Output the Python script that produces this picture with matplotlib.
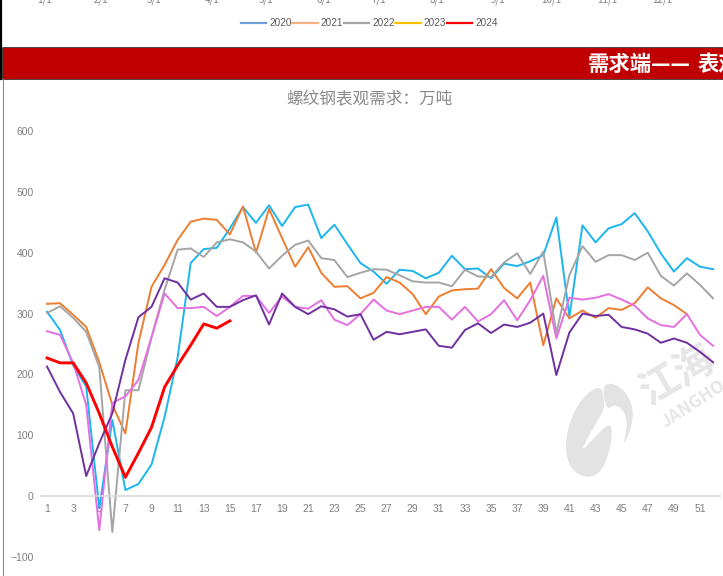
import numpy as np
import matplotlib
matplotlib.use("Agg")
import matplotlib.pyplot as plt
from matplotlib.lines import Line2D
from matplotlib.patches import Polygon, Rectangle

plt.rcParams['font.family'] = ['Noto Sans CJK SC', 'DejaVu Sans']

weeks = list(range(1, 53))
week_ticks = list(range(1, 52, 2))
y_ticks = [-100, 0, 100, 200, 300, 400, 500, 600]
month_labels = ["1/1", "2/1", "3/1", "4/1", "5/1", "6/1", "7/1", "8/1", "9/1", "10/1", "11/1", "12/1"]
legend_years = ["2020", "2021", "2022", "2023", "2024"]

blue = [303, 273, 215, 180, -20, 125, 10, 20, 52, 130, 228, 383, 406, 408, 440, 475, 449, 478, 444, 475,
        479, 424, 446, 414, 383, 369, 349, 372, 370, 358, 367, 395, 373, 374, 358, 382, 378, 386, 396, 458,
        295, 445, 417, 440, 447, 465, 435, 399, 369, 391, 377, 373]
orange = [316, 317, 298, 278, 220, 150, 103, 252, 344, 380, 421, 451, 456, 454, 430, 476, 400, 472, 424, 377,
          409, 367, 344, 345, 325, 334, 360, 351, 332, 299, 328, 338, 340, 341, 373, 342, 325, 351, 248, 325,
          292, 305, 293, 309, 306, 317, 343, 325, 314, 299]
gray = [301, 312, 293, 270, 212, -59, 174, 174, 261, 339, 405, 407, 393, 417, 422, 417, 402, 374, 395, 413,
        420, 391, 388, 360, 367, 373, 372, 363, 353, 351, 351, 345, 372, 361, 360, 384, 399, 365, 402, 268,
        363, 411, 385, 396, 396, 388, 400, 362, 346, 366, 347, 325]
pink = [271, 265, 219, 150, -56, 153, 164, 191, 261, 333, 309, 309, 311, 296, 311, 329, 329, 301, 328, 311,
        308, 322, 290, 281, 299, 323, 305, 299, 305, 311, 311, 290, 311, 287, 299, 322, 289, 322, 362, 259,
        326, 323, 326, 332, 323, 313, 292, 281, 278, 299, 265, 247]
purple = [213, 171, 136, 33, 87, 136, 224, 294, 311, 358, 351, 323, 333, 311, 311, 322, 330, 282, 333, 311,
          299, 312, 307, 295, 299, 257, 270, 266, 270, 274, 247, 244, 273, 284, 268, 282, 278, 285, 300, 199,
          269, 300, 296, 298, 278, 274, 267, 252, 259, 252, 237, 220]
red = [227, 219, 219, 186, 136, 81, 31, 71, 113, 179, 215, 248, 283, 276, 288]


def smooth(pts, n=3):
    # corner cutting so the logo outline is not so angular
    pts = np.array(pts, dtype=float)
    for _ in range(n):
        nxt = np.roll(pts, -1, axis=0)
        pts = np.column_stack([0.75 * pts + 0.25 * nxt, 0.25 * pts + 0.75 * nxt]).reshape(-1, 2)
    return pts


W, H = 723, 576
fig = plt.figure(figsize=(W / 100, H / 100), dpi=100)

# backdrop in pixel coords: band, frame, watermark, cut off top of the chart above
bg = fig.add_axes([0, 0, 1, 1], zorder=0)
bg.set_xlim(0, W)
bg.set_ylim(H, 0)
bg.axis("off")
bg.add_patch(Rectangle((2, 47), W, 32, fc="#C00000", ec="#3A3A3A", lw=0.6))
bg.plot([1.2, 1.2], [0, 79], color="black", lw=1.6)
bg.plot([2.5, 2.5], [79, H], color="#8C8C8C", lw=0.8)
bg.text(588, 64, "需求端——", color="white", fontsize=15.4, fontweight="bold", va="center", ha="left")
bg.text(698, 64, "表观需求", color="white", fontsize=15.4, fontweight="bold", va="center", ha="left")
bg.text(369, 100, "螺纹钢表观需求\uff1a万吨", color="#8A8A8A", fontsize=12, va="center", ha="center")

month_x = [44, 101, 154, 212, 266, 324, 379, 437, 498, 551, 607, 662]
for mx, lab in zip(month_x, month_labels):
    bg.text(mx, 0, lab, color="#7F7F7F", fontsize=7, ha="center", va="center")

# watermark
left_lobe = [(185, 105), (140, 130), (100, 185), (78, 260), (78, 320), (100, 365), (145, 385), (185, 365), (210, 300),
             (218, 235), (205, 222), (170, 255), (120, 310), (150, 250), (180, 200), (195, 170)]
right_lobe = [(188, 108), (215, 98), (255, 120), (282, 180), (272, 240), (248, 292), (262, 230), (255, 185),
              (225, 162), (205, 178), (195, 160)]
for lobe in (left_lobe, right_lobe):
    bg.add_patch(Polygon([(540 + a / 3, 350 + b / 3) for a, b in smooth(lobe)], fc="#E3E3E3", ec="none"))
bg.text(643, 396, "江海", color="#E6E6E6", fontsize=29, fontweight="bold", rotation=30,
        ha="left", va="center", rotation_mode="anchor")
bg.text(663, 424, "JANGHO", color="#E6E6E6", fontsize=12.5, fontweight="bold", rotation=33,
        ha="left", va="center", rotation_mode="anchor")

# legend of the chart above
handles = [Line2D([], [], color=c, lw=1.6) for c in ["#6FA0DC", "#F4B183", "#A5A5A5", "#FFC000", "#FF0000"]]
fig.legend(handles, legend_years, loc="center", bbox_to_anchor=(369 / W, 1 - 23.5 / H), ncol=5, frameon=False,
           labelcolor="#595959", handlelength=2.55, handletextpad=0.3, columnspacing=0.05,
           prop={"family": "Liberation Sans", "size": 7.2})

# main chart
ax = fig.add_axes([40.5 / W, 1 - 557 / H, (719.6 - 40.5) / W, (557 - 131) / H], zorder=1)
ax.patch.set_alpha(0)
ax.plot(weeks, blue, color="#1CB5EE", lw=1.4)
ax.plot(weeks[:len(orange)], orange, color="#ED7D31", lw=1.4)
ax.plot(weeks, gray, color="#A5A5A5", lw=1.4)
ax.plot(weeks, pink, color="#E56FE0", lw=1.4)
ax.plot(weeks, purple, color="#7030A0", lw=1.4)
ax.plot(weeks[:len(red)], red, color="#FF0000", lw=2.1)

ax.set_xlim(0.5, 52.5)
ax.set_ylim(-100, 600)
ax.set_xticks(week_ticks)
ax.set_yticks(y_ticks)
for s in ["top", "left", "right"]:
    ax.spines[s].set_visible(False)
ax.spines["bottom"].set_position(("data", 0))
ax.spines["bottom"].set_color("#D9D9D9")
ax.spines["bottom"].set_linewidth(1.2)
ax.tick_params(axis="both", length=0, labelcolor="#7F7F7F")
ax.tick_params(axis="x", pad=6)
ax.tick_params(axis="y", pad=5)
for t in ax.get_xticklabels() + ax.get_yticklabels():
    t.set_family("Liberation Sans")
    t.set_fontsize(7.5)

fig.savefig("out.png", dpi=100)
